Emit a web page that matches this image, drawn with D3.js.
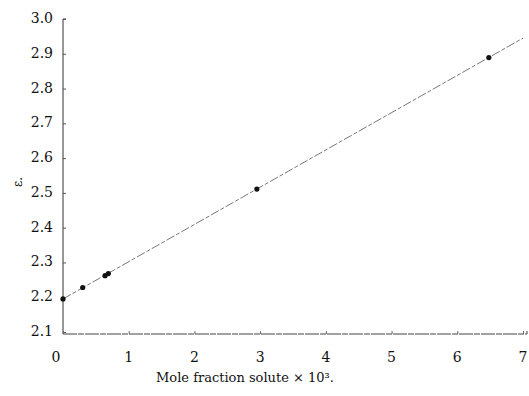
<!DOCTYPE html>
<html>
<head>
<meta charset="utf-8">
<script src="https://cdn.jsdelivr.net/npm/d3@7"></script>
<style>
  body { margin: 0; background: #fff; }
  text { font-family: "DejaVu Serif", "Liberation Serif", serif; fill: #111; }
</style>
</head>
<body>
<div id="chart"></div>
<script>
// Dielektrizitaetskonstante gegen Molenbruch
const moleFraction = [0.0, 0.30, 0.64, 0.69, 2.95, 6.48];
const epsilon = [2.195, 2.228, 2.262, 2.268, 2.511, 2.889];
const fitX = [0, 7];
const fitY = [2.195, 2.945];
const xTicks = [0, 1, 2, 3, 4, 5, 6, 7];
const yTicks = [2.1, 2.2, 2.3, 2.4, 2.5, 2.6, 2.7, 2.8, 2.9, 3.0];

function renderChart() {
  const width = 529;
  const height = 396;

  const svg = d3.select("#chart")
    .append("svg")
    .attr("width", width)
    .attr("height", height);

  const x = d3.scaleLinear().domain([0, 7]).range([63, 523]);
  const y = d3.scaleLinear().domain([2.1, 3.0]).range([332, 19]);

  // Achsen
  const yAxis = d3.axisRight(y)
    .tickValues(yTicks)
    .tickSize(3)
    .tickFormat("");
  svg.append("g")
    .attr("transform", `translate(${x(0)},0)`)
    .call(yAxis)
    .call(g => g.select(".domain").attr("d", `M3,${y(3.0)}H0V${y(2.1) + 2}`).attr("stroke", "#333"))
    .call(g => g.selectAll(".tick line").attr("stroke", "#555"));

  const xAxis = d3.axisTop(x)
    .tickValues(xTicks)
    .tickSize(3)
    .tickFormat("");
  svg.append("g")
    .attr("transform", `translate(0,${y(2.1) + 2})`)
    .call(xAxis)
    .call(g => g.select(".domain").attr("d", `M${x(0)},0H${x(7) + 4}V-3`).attr("stroke", "#444").attr("stroke-dasharray", "14,1,6,1"))
    .call(g => g.selectAll(".tick line").attr("stroke", "#666"));

  // Beschriftungen
  svg.append("g").selectAll("text")
    .data(yTicks)
    .join("text")
    .attr("x", 53)
    .attr("y", d => y(d))
    .attr("text-anchor", "end")
    .attr("dominant-baseline", "middle")
    .style("font-size", "14px")
    .text(d => d.toFixed(1));

  svg.append("g").selectAll("text")
    .data(xTicks)
    .join("text")
    .attr("x", d => d === 0 ? x(d) - 7 : x(d))
    .attr("y", 358)
    .attr("text-anchor", "middle")
    .attr("dominant-baseline", "middle")
    .style("font-size", "14px")
    .text(d => d);

  svg.append("text")
    .attr("x", 245)
    .attr("y", 382)
    .attr("text-anchor", "middle")
    .style("font-size", "13px")
    .text("Mole fraction solute \u00D7 10\u00B3.");

  svg.append("text")
    .attr("transform", `translate(22,182) rotate(-90)`)
    .attr("text-anchor", "middle")
    .style("font-size", "12px")
    .text("\u03B5.");

  // Ausgleichsgerade
  const line = d3.line()
    .x(d => x(d[0]))
    .y(d => y(d[1]));
  svg.append("path")
    .datum(fitX.map((d, i) => [d, fitY[i]]))
    .attr("d", line)
    .attr("fill", "none")
    .attr("stroke", "#777")
    .attr("stroke-width", 1)
    .attr("stroke-dasharray", "9,2,4,2");

  // Messpunkte
  svg.append("g").selectAll("circle")
    .data(moleFraction)
    .join("circle")
    .attr("cx", d => x(d))
    .attr("cy", (d, i) => y(epsilon[i]))
    .attr("r", 2.6)
    .attr("fill", "#111");
}

renderChart();
</script>
</body>
</html>
